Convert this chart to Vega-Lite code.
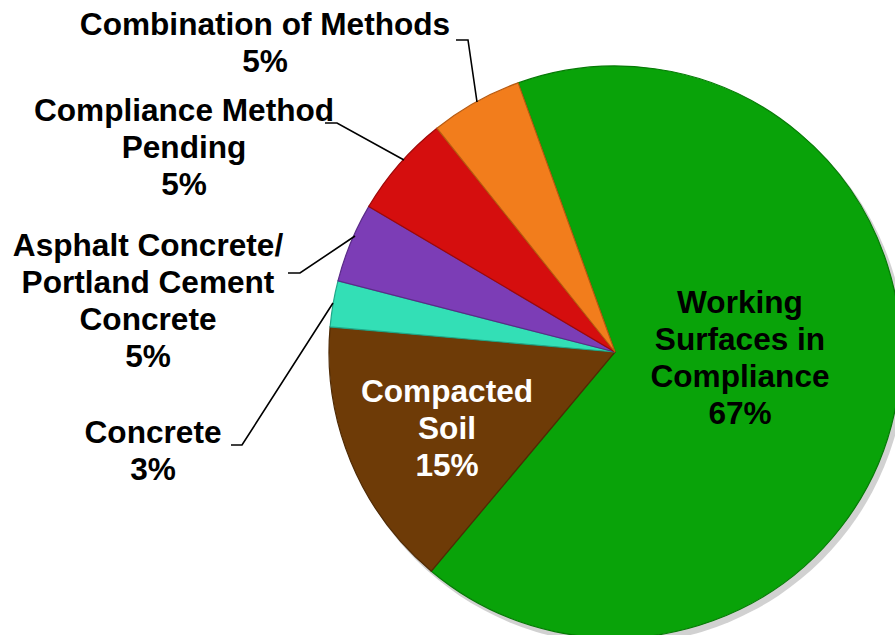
{
  "$schema": "https://vega.github.io/schema/vega-lite/v6.json",
  "width": 895,
  "height": 635,
  "autosize": {"type": "none"},
  "padding": 0,
  "background": "white",
  "config": {"view": {"stroke": null}, "text": {"font": "Liberation Sans"}},
  "datasets": {
    "slices": [
      {"category": "Working Surfaces in Compliance", "value": 66.6, "idx": 1, "label": ["Working", "Surfaces in", "Compliance", "67%"], "lx": 740, "ly": 313},
      {"category": "Compacted Soil", "value": 15.3, "idx": 2, "label": ["Compacted", "Soil", "15%"], "lx": 447, "ly": 402},
      {"category": "Concrete", "value": 2.6, "idx": 3, "label": ["Concrete", "3%"], "lx": 153, "ly": 443},
      {"category": "Asphalt Concrete/Portland Cement Concrete", "value": 4.5, "idx": 4, "label": ["Asphalt Concrete/", "Portland Cement", "Concrete", "5%"], "lx": 148, "ly": 256},
      {"category": "Compliance Method Pending", "value": 5.8, "idx": 5, "label": ["Compliance Method", "Pending", "5%"], "lx": 184, "ly": 121},
      {"category": "Combination of Methods", "value": 5.2, "idx": 6, "label": ["Combination of Methods", "5%"], "lx": 265, "ly": 35}
    ],
    "leaders": [
      {"category": "Combination of Methods", "step": 1, "x": 456, "y": 40},
      {"category": "Combination of Methods", "step": 2, "x": 468, "y": 40},
      {"category": "Combination of Methods", "step": 3, "x": 477, "y": 102},
      {"category": "Compliance Method Pending", "step": 1, "x": 325, "y": 123},
      {"category": "Compliance Method Pending", "step": 2, "x": 337, "y": 123},
      {"category": "Compliance Method Pending", "step": 3, "x": 404, "y": 160},
      {"category": "Asphalt Concrete/Portland Cement Concrete", "step": 1, "x": 288, "y": 273},
      {"category": "Asphalt Concrete/Portland Cement Concrete", "step": 2, "x": 300, "y": 273},
      {"category": "Asphalt Concrete/Portland Cement Concrete", "step": 3, "x": 355, "y": 236},
      {"category": "Concrete", "step": 1, "x": 231, "y": 445},
      {"category": "Concrete", "step": 2, "x": 242, "y": 445},
      {"category": "Concrete", "step": 3, "x": 333, "y": 303}
    ]
  },
  "layer": [
    {
      "data": {"name": "slices"},
      "transform": [{"filter": "datum.idx == 1"}],
      "mark": {"type": "arc", "outerRadius": 287, "color": "#9a9a9a", "opacity": 0.45},
      "encoding": {
        "x": {"datum": 619, "type": "quantitative", "scale": {"domain": [0, 895], "nice": false, "zero": false}, "axis": null},
        "y": {"datum": 357, "type": "quantitative", "scale": {"domain": [0, 635], "nice": false, "zero": false, "reverse": true}, "axis": null}
      }
    },
    {
      "data": {"name": "slices"},
      "mark": {"type": "arc", "outerRadius": 286, "strokeWidth": 1.2},
      "encoding": {
        "x": {"datum": 615, "type": "quantitative", "scale": {"domain": [0, 895], "nice": false, "zero": false}, "axis": null},
        "y": {"datum": 352, "type": "quantitative", "scale": {"domain": [0, 635], "nice": false, "zero": false, "reverse": true}, "axis": null},
        "theta": {"field": "value", "type": "quantitative", "stack": true, "scale": {"range": [-0.3456, 5.9376]}},
        "order": {"field": "idx", "type": "quantitative"},
        "color": {
          "field": "category", "type": "nominal", "legend": null,
          "scale": {
            "domain": ["Working Surfaces in Compliance", "Compacted Soil", "Concrete", "Asphalt Concrete/Portland Cement Concrete", "Compliance Method Pending", "Combination of Methods"],
            "range": ["#09a309", "#6e3b07", "#33dfb6", "#7c3db6", "#d50e0e", "#f27d1c"]
          }
        },
        "stroke": {
          "field": "category", "type": "nominal", "legend": null,
          "scale": {
            "domain": ["Working Surfaces in Compliance", "Compacted Soil", "Concrete", "Asphalt Concrete/Portland Cement Concrete", "Compliance Method Pending", "Combination of Methods"],
            "range": ["#067a06", "#4f2a04", "#1fa888", "#5a2b88", "#9e0808", "#b85a10"]
          }
        }
      }
    },
    {
      "data": {"name": "leaders"},
      "mark": {"type": "line", "color": "black", "strokeWidth": 1.6},
      "encoding": {
        "x": {"field": "x", "type": "quantitative", "scale": {"domain": [0, 895], "nice": false, "zero": false}, "axis": null},
        "y": {"field": "y", "type": "quantitative", "scale": {"domain": [0, 635], "nice": false, "zero": false, "reverse": true}, "axis": null},
        "detail": {"field": "category", "type": "nominal"},
        "order": {"field": "step", "type": "quantitative"}
      }
    },
    {
      "data": {"name": "slices"},
      "transform": [{"filter": "datum.idx != 2"}],
      "mark": {"type": "text", "fontSize": 31.6, "fontWeight": "bold", "align": "center", "baseline": "alphabetic", "lineHeight": 37, "color": "black"},
      "encoding": {
        "x": {"field": "lx", "type": "quantitative", "scale": {"domain": [0, 895], "nice": false, "zero": false}, "axis": null},
        "y": {"field": "ly", "type": "quantitative", "scale": {"domain": [0, 635], "nice": false, "zero": false, "reverse": true}, "axis": null},
        "text": {"field": "label", "type": "nominal"}
      }
    },
    {
      "data": {"name": "slices"},
      "transform": [{"filter": "datum.idx == 2"}],
      "mark": {"type": "text", "fontSize": 31.6, "fontWeight": "bold", "align": "center", "baseline": "alphabetic", "lineHeight": 37, "color": "white"},
      "encoding": {
        "x": {"field": "lx", "type": "quantitative", "scale": {"domain": [0, 895], "nice": false, "zero": false}, "axis": null},
        "y": {"field": "ly", "type": "quantitative", "scale": {"domain": [0, 635], "nice": false, "zero": false, "reverse": true}, "axis": null},
        "text": {"field": "label", "type": "nominal"}
      }
    }
  ]
}
